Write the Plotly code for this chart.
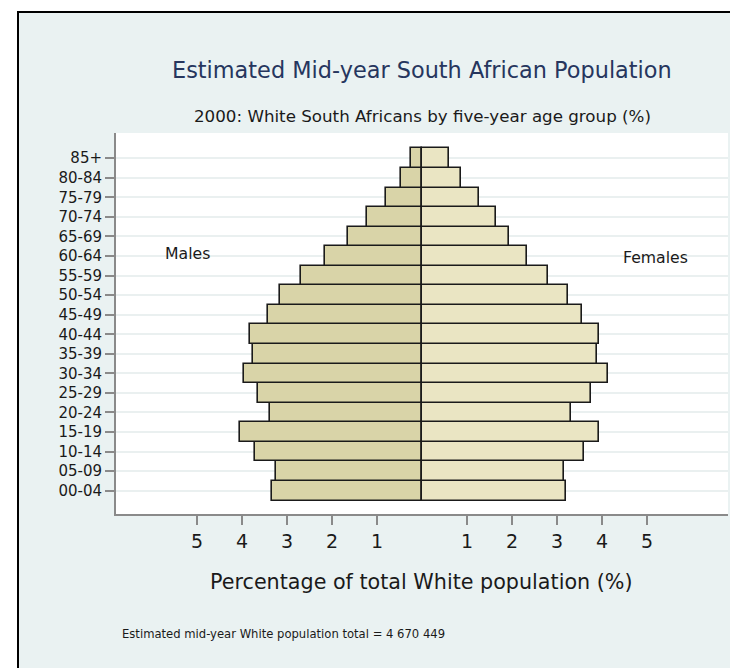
import plotly.graph_objects as go

age_groups = ["00-04", "05-09", "10-14", "15-19", "20-24", "25-29", "30-34", "35-39",
              "40-44", "45-49", "50-54", "55-59", "60-64", "65-69", "70-74", "75-79",
              "80-84", "85+"]
males = [3.33, 3.25, 3.71, 4.04, 3.37, 3.64, 3.96, 3.75, 3.83, 3.43, 3.15, 2.68,
         2.16, 1.64, 1.22, 0.81, 0.47, 0.24]
females = [3.21, 3.16, 3.60, 3.94, 3.32, 3.76, 4.13, 3.89, 3.94, 3.56, 3.24, 2.79,
           2.33, 1.93, 1.65, 1.26, 0.87, 0.61]
tick_values = [1, 2, 3, 4, 5]

title = "Estimated Mid-year South African Population"
subtitle = "2000: White South Africans by five-year age group (%)"
x_title = "Percentage of total White population (%)"
footer = "Estimated mid-year White population total = 4 670 449"

# the page body has an 8px margin, so the figure is laid out 8px in from the window
OFF = 8
W, H = 738 - OFF, 668 - OFF
L, T = 116 - OFF, 133 - OFF
R = W - (728 - OFF)
B = H - (514 - OFF)
pw, ph = W - L - R, H - T - B


def px(x):
    return (x - OFF - L) / pw


def py(y):
    return (H - B - (y - OFF)) / ph


FONT = "DejaVu Sans"
TXT = "#1a1a1a"

fig = go.Figure()
fig.add_trace(go.Bar(
    y=age_groups, x=[-v for v in males], orientation="h", name="Males",
    marker=dict(color="#d9d4a8", line=dict(color="#1a1a1a", width=1.6)),
    width=1.0, showlegend=False, hoverinfo="skip"))
fig.add_trace(go.Bar(
    y=age_groups, x=females, orientation="h", name="Females",
    marker=dict(color="#eae5c3", line=dict(color="#1a1a1a", width=1.6)),
    width=1.0, showlegend=False, hoverinfo="skip"))

tv = [-v for v in reversed(tick_values)] + tick_values
tt = [str(v) for v in reversed(tick_values)] + [str(v) for v in tick_values]

fig.update_layout(
    width=W, height=H,
    margin=dict(l=L, r=R, t=T, b=B, pad=0),
    paper_bgcolor="white",
    plot_bgcolor="white",
    barmode="overlay",
    bargap=0,
    font=dict(family=FONT, color=TXT),
    xaxis=dict(
        range=[-6.8, 6.8], tickvals=tv, ticktext=tt,
        showgrid=False, zeroline=False,
        showline=True, linecolor="#8a8a8a", linewidth=2,
        ticks="outside", ticklen=9, tickwidth=2, tickcolor="#8a8a8a",
        tickfont=dict(size=19, color=TXT, family=FONT),
        fixedrange=True,
    ),
    yaxis=dict(
        type="category", categoryorder="array", categoryarray=age_groups,
        range=[-1.19, 18.29],
        showgrid=True, gridcolor="#eaf0f0", gridwidth=2,
        zeroline=False,
        showline=True, linecolor="#8a8a8a", linewidth=2,
        ticks="outside", ticklen=9, tickwidth=2, tickcolor="#8a8a8a",
        tickfont=dict(size=15, color=TXT, family=FONT),
        fixedrange=True,
    ),
    shapes=[
        dict(type="rect", xref="paper", yref="paper",
             x0=px(18), x1=px(780), y0=py(720), y1=py(12),
             fillcolor="#eaf2f2", line=dict(color="black", width=2), layer="below"),
        dict(type="rect", xref="paper", yref="paper",
             x0=0, x1=1, y0=0, y1=1,
             fillcolor="white", line=dict(width=0), layer="below"),
    ],
    annotations=[
        dict(text=title, xref="paper", yref="paper", x=px(422), y=py(70),
             xanchor="center", yanchor="middle", showarrow=False,
             font=dict(size=22.4, color="#26365e", family=FONT)),
        dict(text=subtitle, xref="paper", yref="paper", x=px(422), y=py(116),
             xanchor="center", yanchor="middle", showarrow=False,
             font=dict(size=16.7, color=TXT, family=FONT)),
        dict(text=x_title, xref="paper", yref="paper", x=px(421), y=py(582),
             xanchor="center", yanchor="middle", showarrow=False,
             font=dict(size=20.7, color=TXT, family=FONT)),
        dict(text=footer, xref="paper", yref="paper", x=px(120), y=py(634),
             xanchor="left", yanchor="middle", showarrow=False,
             font=dict(size=11.6, color=TXT, family=FONT)),
        dict(text="Males", xref="x", yref="y", x=-5.22, y=12.15,
             xanchor="center", yanchor="middle", showarrow=False,
             font=dict(size=15.7, color=TXT, family=FONT)),
        dict(text="Females", xref="x", yref="y", x=5.18, y=11.9,
             xanchor="center", yanchor="middle", showarrow=False,
             font=dict(size=15.7, color=TXT, family=FONT)),
    ],
)

fig.write_html("out.html", config={"displayModeBar": False})
